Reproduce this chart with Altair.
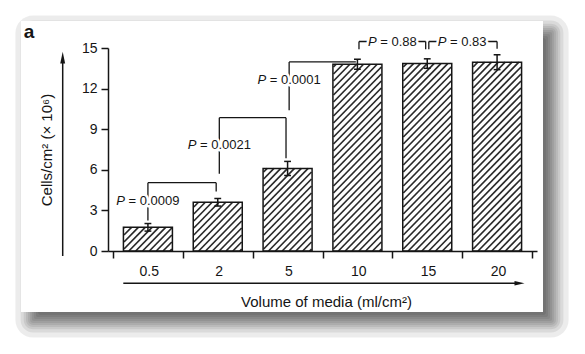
import altair as alt
import pandas as pd

# ---------------- data ----------------
categories = ["0.5", "2", "5", "10", "15", "20"]
means = [1.75, 3.6, 6.1, 13.8, 13.85, 13.95]
errors = [0.28, 0.28, 0.52, 0.37, 0.35, 0.55]
y_ticks = [0, 3, 6, 9, 12, 15]

br_left = ["0.5", "2", "5", "10", "15"]
br_right = ["2", "5", "10", "15", "20"]
br_top = [5.05, 9.85, 13.97, 15.48, 15.48]
br_left_end = [2.25, 5.7, 10.4, 14.9, 14.9]
br_right_end = [4.4, 6.85, 13.97, 14.9, 14.95]
br_p = ["0.0009", "0.0021", "0.0001", "0.88", "0.83"]
br_label_at = ["leg", "leg", "leg", "top", "top"]
br_label_y = [3.67, 7.83, 12.64, 15.48, 15.48]

x_title = "Volume of media (ml/cm²)"
y_title = "Cells/cm² (× 10⁶)"
panel_label = "a"

# ---------------- layout / style ----------------
W, H = 429, 203
PAD = {"left": 108, "top": 48, "right": 48, "bottom": 103}
YMAX = 15
N = len(categories)
KX = W / N
KY = H / YMAX
BAR_PX = 49
HALF = BAR_PX / 2 / KX
CAP = 3.5 / KX
HATCH_D = 7.0
FONT = "Liberation Sans"
INK = "#151515"
PFS = 13

xscale = alt.Scale(domain=[0, N], nice=False, zero=False)
yscale = alt.Scale(domain=[0, YMAX], nice=False, zero=False)

label_expr = "[" + ",".join(f"'{c}'" for c in categories) + "][datum.value] || ''"
x_axis = alt.Axis(
    values=list(range(N + 1)), labelExpr=label_expr, labelOffset=KX / 2,
    labelFlush=False, labelOverlap=False, grid=False,
    tickSize=7, tickWidth=1.5, tickColor=INK, domainWidth=1.5, domainColor=INK,
    labelFontSize=14, labelColor=INK, labelPadding=6, labelFont=FONT,
    title=x_title, titleFontSize=15, titleFontWeight="normal", titleColor=INK, titleFont=FONT,
    titleX=218, titleY=50, titleAlign="center", titleBaseline="middle", zindex=1,
)
y_axis = alt.Axis(
    values=y_ticks, grid=False, labelFlush=False,
    tickSize=7, tickWidth=1.5, tickColor=INK, domainWidth=1.5, domainColor=INK,
    labelFontSize=14, labelColor=INK, labelPadding=4, labelFont=FONT,
    title=y_title, titleFontSize=15, titleFontWeight="normal", titleColor=INK, titleFont=FONT,
    titleX=-61.3, titleY=H / 2, titleAngle=270, titleAlign="center", titleBaseline="middle",
    zindex=1,
)


def X(f):
    return alt.X(f, type="quantitative", scale=xscale, axis=x_axis, title=x_title)


def Y(f):
    return alt.Y(f, type="quantitative", scale=yscale, axis=y_axis, title=y_title)


one = pd.DataFrame({"k": [0]})

# ---------------- card + shadow (decoration) ----------------
card = (-87, -27, 435, 264)
SH_DX, SH_DY = 10, 10
spread = [-15.6, -10.4, -7.3, -5, -2.9, -0.9, 0.9, 2.9, 5, 7.3, 10.4, 15.6]
layers = []
for r in spread:
    layers.append(
        alt.Chart(one).mark_rect(color="black", opacity=0.075,
                                 cornerRadius=max(0, r) + 2).encode(
            x=alt.value(card[0] + SH_DX - r), x2=alt.value(card[2] + SH_DX + r),
            y=alt.value(card[1] + SH_DY - r), y2=alt.value(card[3] + SH_DY + r))
    )
layers.append(
    alt.Chart(one).mark_rect(color="white").encode(
        x=alt.value(card[0]), x2=alt.value(card[2]),
        y=alt.value(card[1]), y2=alt.value(card[3]))
)

# ---------------- bars ----------------
pos = [i + 0.5 for i in range(N)]
bars_df = pd.DataFrame({"cat": categories, "pos": pos, "mean": means, "err": errors})

hatch = (
    alt.Chart(bars_df)
    .transform_calculate(k="sequence(0, 45)")
    .transform_flatten(["k"])
    .transform_calculate(hb=f"datum.mean * {KY}", s=f"datum.k * {HATCH_D} - {BAR_PX} + 2")
    .transform_calculate(xs="max(0, -datum.s)", xe=f"min({BAR_PX}, datum.hb - datum.s)")
    .transform_filter("datum.xe > datum.xs + 0.3")
    .transform_calculate(
        hx1=f"datum.pos - {HALF} + datum.xs / {KX}",
        hx2=f"datum.pos - {HALF} + datum.xe / {KX}",
        hy1=f"(datum.xs + datum.s) / {KY}",
        hy2=f"(datum.xe + datum.s) / {KY}",
    )
    .mark_rule(color="#2a2a2a", strokeWidth=1.7)
    .encode(x=X("hx1"), x2="hx2", y=Y("hy1"), y2="hy2")
)

bars_out = alt.Chart(bars_df).mark_bar(
    size=BAR_PX, fill="white", fillOpacity=0, stroke=INK, strokeWidth=1.5
).encode(x=X("pos"), y=Y("mean"))

err_base = alt.Chart(bars_df).transform_calculate(
    lo="datum.mean - datum.err", hi="datum.mean + datum.err",
    xl=f"datum.pos - {CAP}", xr=f"datum.pos + {CAP}",
)
err_rule = err_base.mark_rule(color=INK, strokeWidth=1.5).encode(x=X("pos"), y=Y("lo"), y2="hi")
cap_lo = err_base.mark_rule(color=INK, strokeWidth=1.5).encode(x=X("xl"), x2="xr", y=Y("lo"))
cap_hi = err_base.mark_rule(color=INK, strokeWidth=1.5).encode(x=X("xl"), x2="xr", y=Y("hi"))

layers += [hatch, bars_out, err_rule, cap_lo, cap_hi]

# ---------------- significance brackets ----------------
idx = {c: i for i, c in enumerate(categories)}
gap = 1.6 / KX
lpos = [idx[c] + 0.5 for c in br_left]
rpos = [idx[c] + 0.5 for c in br_right]
mid = [(a + b) / 2 for a, b in zip(lpos, rpos)]
for i in range(len(br_left)):
    for j in range(len(br_left)):
        if br_right[i] == br_left[j]:
            rpos[i] -= gap
            lpos[j] += gap
lab_x = [lpos[i] if br_label_at[i] == "leg" else mid[i] for i in range(len(br_left))]

br_df = pd.DataFrame({
    "lp": lpos, "rp": rpos, "top": br_top, "le": br_left_end, "re": br_right_end,
    "rest": ["= " + p for p in br_p], "at": br_label_at, "lx": lab_x, "ly": br_label_y,
})
BR_W = 1.3
br_h = alt.Chart(br_df).mark_rule(color=INK, strokeWidth=BR_W).encode(x=X("lp"), x2="rp", y=Y("top"))
br_l = alt.Chart(br_df).mark_rule(color=INK, strokeWidth=BR_W).encode(x=X("lp"), y=Y("top"), y2="le")
br_r = alt.Chart(br_df).mark_rule(color=INK, strokeWidth=BR_W).encode(x=X("rp"), y=Y("top"), y2="re")
layers += [br_h, br_l, br_r]

AW = {"0": .556, "1": .556, "2": .556, "3": .556, "4": .556, "5": .556, "6": .556,
      "7": .556, "8": .556, "9": .556, ".": .278, "=": .584, " ": .278}


def tw(s, fs):
    return sum(AW.get(ch, .556) for ch in s) * fs


wP = 0.667 * PFS
sp = 0.278 * PFS
for where in ["leg", "top"]:
    sample = br_df[br_df["at"] == where]["rest"].iloc[0]
    total = wP + sp + tw(sample, PFS)
    dxp = -total / 2 + wP
    dxr = dxp + sp
    base = alt.Chart(br_df).transform_filter(f"datum.at == '{where}'").encode(x=X("lx"), y=Y("ly"))
    halo = dict(stroke="white", strokeWidth=5, strokeJoin="round", fill="white")
    layers += [
        base.mark_text(text="P", fontStyle="italic", align="right", baseline="middle",
                       dx=dxp, fontSize=PFS, font=FONT, **halo),
        base.mark_text(align="left", baseline="middle", dx=dxr, fontSize=PFS, font=FONT,
                       **halo).encode(text="rest:N"),
        base.mark_text(text="P", fontStyle="italic", align="right", baseline="middle",
                       dx=dxp, fontSize=PFS, font=FONT, color=INK),
        base.mark_text(align="left", baseline="middle", dx=dxr, fontSize=PFS, font=FONT,
                       color=INK).encode(text="rest:N"),
    ]

# ---------------- axis arrows and panel label (decoration) ----------------
layers += [
    alt.Chart(one).mark_rule(color=INK, strokeWidth=1.5).encode(
        x=alt.value(-45.3), y=alt.value(208), y2=alt.value(12)),
    alt.Chart(one).mark_point(shape="M0,-1L0.42,1L-0.42,1Z", filled=True, size=137,
                              color=INK, opacity=1).encode(x=alt.value(-45.3), y=alt.value(9.7)),
    alt.Chart(one).mark_rule(color=INK, strokeWidth=1.5).encode(
        x=alt.value(15.3), x2=alt.value(410), y=alt.value(235.3)),
    alt.Chart(one).mark_point(shape="M1,0L-1,-0.45L-1,0.45Z", filled=True, size=100,
                              color=INK, opacity=1).encode(x=alt.value(411.5), y=alt.value(235.3)),
    alt.Chart(one).mark_text(text=panel_label, fontWeight="bold", fontSize=19, font=FONT,
                             align="center", baseline="alphabetic", color=INK).encode(
        x=alt.value(-79), y=alt.value(-10)),
]

chart = (
    alt.layer(*layers)
    .properties(width=W, height=H, padding=PAD, autosize=alt.AutoSizeParams(type="none"))
    .configure_view(stroke=None)
    .configure(background="white", font=FONT)
)

chart.save("out.html", embed_options={"renderer": "svg", "actions": False})
